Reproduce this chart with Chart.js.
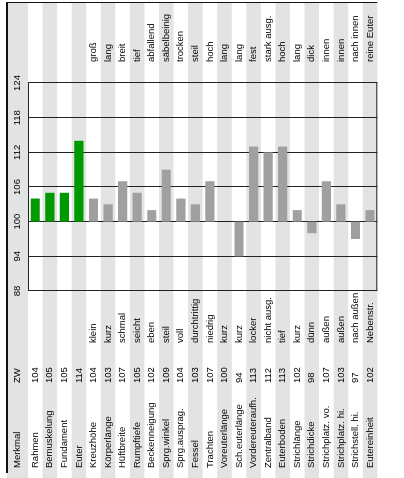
<!DOCTYPE html>
<html><head><meta charset="utf-8">
<script src="https://cdn.jsdelivr.net/npm/chart.js@4"></script>
<style>
html,body{margin:0;padding:0;background:#fff;overflow:hidden;width:404px;height:478px;}
#wrap{position:absolute;left:0;top:0;width:478px;height:404px;transform-origin:0 0;transform:translate(0,478px) rotate(-90deg);}
</style></head><body>
<div id="wrap"><canvas id="c" width="478" height="404" style="width:478px;height:404px"></canvas></div>
<script>
const traits = ['Rahmen','Bemuskelung','Fundament','Euter','Kreuzhöhe','Körperlänge','Hüftbreite','Rumpftiefe','Beckenneigung','Sprg.winkel','Sprg.ausprag.','Fessel','Trachten','Voreuterlänge','Sch.euterlänge','Vordereuteraufh.','Zentralband','Euterboden','Strichlänge','Strichdicke','Strichplatz. vo.','Strichplatz. hi.','Strichstell. hi.','Eutereinheit'];
const zwValues = [104,105,105,114,104,103,107,105,102,109,104,103,107,100,94,113,112,113,102,98,107,103,97,102];
const lowPoles = ['','','','','klein','kurz','schmal','seicht','eben','steil','voll','durchtrittig','niedrig','kurz','kurz','locker','nicht ausg.','tief','kurz','dünn','außen','außen','nach außen','Nebenstr.'];
const highPoles = ['','','','','groß','lang','breit','tief','abfallend','säbelbeinig','trocken','steil','hoch','lang','lang','fest','stark ausg.','hoch','lang','dick','innen','innen','nach innen','reine Euter'];
const valueTicks = [88,94,100,106,112,118,124];
const baseValue = 100;
const mainTraitCount = 4;
const headerLabels = ['Merkmal','ZW'];

const FONT = {family:"'Liberation Sans', Arial, sans-serif", size:9.5};
const GREEN = '#009a00', GRAY = '#a0a0a0', STRIPE = '#e2e3e3', LINE = '#222';

const tablePlugin = {
  id:'table',
  beforeDraw(chart){
    const ctx = chart.ctx, ys = chart.scales.yName, a = chart.chartArea;
    const rowH = (a.bottom - a.top) / traits.length;
    ctx.save();
    ctx.fillStyle = STRIPE;
    ctx.fillRect(0, 7, 476, a.top - 7);
    traits.forEach((t,i)=>{ if(i % 2 === 1){ const c = ys.getPixelForValue(i); ctx.fillRect(0, c - rowH/2, 476, rowH); } });
    ctx.restore();
  },
  afterDraw(chart){
    const ctx = chart.ctx, a = chart.chartArea;
    ctx.save();
    ctx.fillStyle = '#000';
    ctx.font = FONT.size + 'px ' + FONT.family;
    ctx.textBaseline = 'middle';
    ctx.textAlign = 'left';
    const mid = (7 + a.top) / 2;
    ctx.fillText(headerLabels[0], chart.scales.yName.left, mid);
    ctx.fillText(headerLabels[1], chart.scales.yZW.left, mid);
    ctx.strokeStyle = LINE; ctx.lineWidth = 1;
    ctx.strokeRect(a.left + 0.5, a.top + 0.5, a.right - a.left, a.bottom - a.top - 1);
    ctx.fillStyle = '#111';
    ctx.fillRect(5, 6, 471, 2);
    ctx.fillRect(475, 7, 1, a.bottom - 7);
    ctx.restore();
  }
};

function catAxis(labels, position, weight, width, align, padding){
  return {
    type:'category', labels, position, weight, offset:true,
    grid:{display:false, drawTicks:false, offset:true},
    border:{display:false},
    ticks:{autoSkip:false, font:FONT, color:'#000', crossAlign:align, padding:padding},
    afterFit(s){ s.width = width; }
  };
}

new Chart(document.getElementById('c'), {
  type:'bar',
  data:{
    labels: traits,
    datasets:[{
      data: zwValues.map(v => [baseValue, v]),
      backgroundColor: zwValues.map((v,i) => i < mainTraitCount ? GREEN : GRAY),
      borderWidth:0,
      yAxisID:'yName',
      categoryPercentage:1,
      barPercentage:0.63
    }]
  },
  options:{
    indexAxis:'y',
    responsive:false,
    animation:false,
    events:[],
    layout:{padding:{left:10, top:7, right:0, bottom:0}},
    plugins:{legend:{display:false}, tooltip:{enabled:false}},
    scales:{
      x:{
        type:'linear', position:'top', min:88, max:124,
        afterBuildTicks(s){ s.ticks = valueTicks.map(v => ({value:v})); },
        grid:{color:LINE, lineWidth:1, drawTicks:false},
        border:{display:false},
        ticks:{font:FONT, color:'#000', padding:5, maxRotation:0, autoSkip:false},
        afterFit(s){ s.height = 21; }
      },
      yName: catAxis(traits, 'left', 3, 85, 'far', 0),
      yZW: catAxis(zwValues.map(String), 'left', 2, 40, 'far', 0),
      yLow: catAxis(lowPoles, 'left', 1, 52, 'far', 0),
      yHigh: catAxis(highPoles, 'right', 1, 83, 'near', 21)
    }
  },
  plugins:[tablePlugin]
});
</script>
</body></html>
